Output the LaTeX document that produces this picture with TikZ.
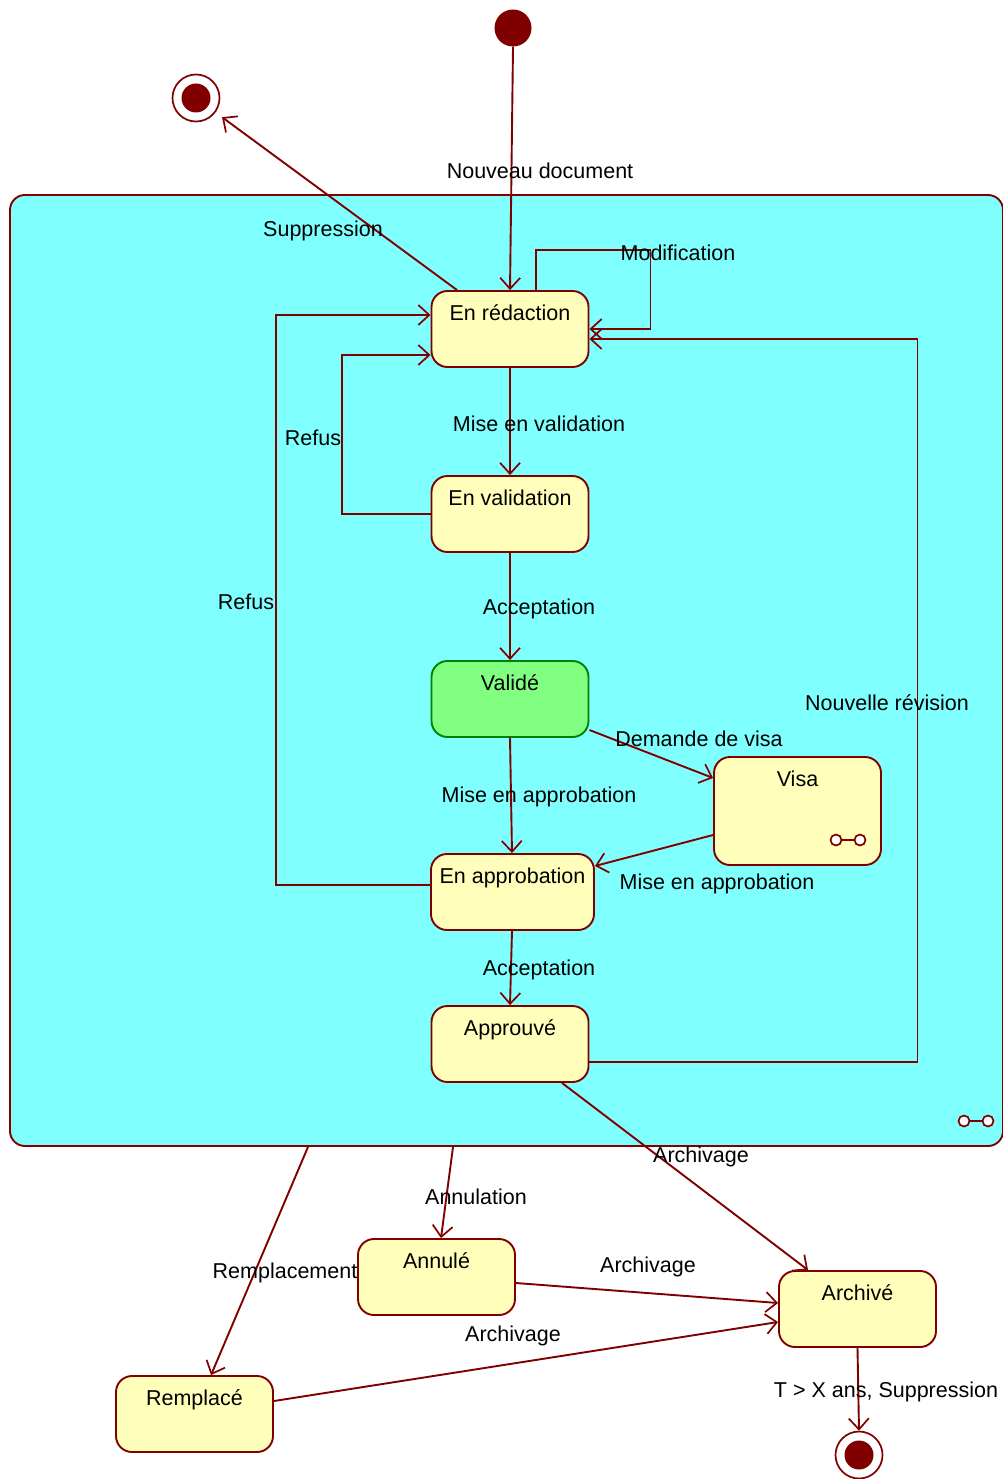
\documentclass[tikz,border=0pt]{standalone}
\usepackage{fontspec}
\setmainfont{Liberation Sans}
\usetikzlibrary{arrows.meta}
\definecolor{dred}{HTML}{800000}
\definecolor{compfill}{HTML}{80FFFF}
\definecolor{stfill}{HTML}{FFFFBB}
\definecolor{okfill}{HTML}{80FF80}
\definecolor{okdraw}{HTML}{008000}

\begin{document}
\begin{tikzpicture}[x=1pt, y=-1pt, font=\fontsize{21.5}{25}\selectfont,
    state/.style={rectangle, rounded corners=16pt, draw=dred, line width=1.9pt, fill=stfill,
        minimum width=157pt, minimum height=76pt, inner sep=0pt,
        label={[anchor=base, yshift=-30pt, inner sep=0pt]north:#1}},
    trans/.style={draw=dred, line width=1.9pt, -{Straight Barb[length=11pt, width=20pt, line width=1.7pt]}},
    lbl/.style={inner sep=0pt, anchor=center}]
    \useasboundingbox (0,0) rectangle (1002,1479);
    % composite state
    \node[rectangle, rounded corners=15pt, draw=dred, line width=1.9pt, fill=compfill,
        minimum width=993pt, minimum height=951pt, inner sep=0pt] (comp) at (506.5,670.5) {};
    % pseudo states
    \node[circle, fill=dred, minimum size=37pt, inner sep=0pt] (init) at (513,28) {};
    \node[circle, draw=dred, line width=1.7pt, fill=white, minimum size=47pt, inner sep=0pt] (fin1) at (196,98) {};
    \node[circle, fill=dred, minimum size=29pt, inner sep=0pt] at (fin1) {};
    \node[circle, draw=dred, line width=1.7pt, fill=white, minimum size=47pt, inner sep=0pt] (fin2) at (859,1455) {};
    \node[circle, fill=dred, minimum size=29pt, inner sep=0pt] at (fin2) {};
    % states
    \node[state=En rédaction] (red) at (510,329) {};
    \node[state=En validation] (val) at (510,514) {};
    \node[state=Validé, fill=okfill, draw=okdraw] (ok) at (510,699) {};
    \node[state=Visa, minimum width=167pt, minimum height=108pt] (visa) at (797.5,811) {};
    \node[state=En approbation, minimum width=163pt] (appr) at (512.5,892) {};
    \node[state=Approuvé] (apv) at (510,1044) {};
    \node[state=Annulé] (ann) at (436.5,1277) {};
    \node[state=Archivé] (arch) at (857.5,1309) {};
    \node[state=Remplacé] (rem) at (194.5,1414) {};
    % submachine icons
    \foreach \cx/\cy in {964/1121, 836/840} {
        \draw[dred, line width=1.7pt] (\cx,\cy) -- (\cx+24,\cy);
    }
    \foreach \cx/\cy in {964/1121, 988/1121, 836/840, 860/840} {
        \draw[dred, line width=1.7pt, fill=white] (\cx,\cy) circle (5.5);
    }
    % transitions
    \draw[trans] (init.south) -- (red.north);
    \draw[trans, shorten >=8pt] ([xshift=-53pt]red.north) -- (fin1);
    \draw[trans] ([xshift=26pt]red.north) -- ++(0,-40) -| ([xshift=61pt]red.east) -- (red.east);
    \draw[trans] (red.south) -- (val.north);
    \draw[trans] (val.west) -- ++(-89,0) |- ([yshift=-26pt]red.west);
    \draw[trans] (val.south) -- (ok.north);
    \draw[trans] ([yshift=7pt]appr.west) -- ++(-154,0) |- ([yshift=14pt]red.west);
    \draw[trans] (ok.south) -- ([xshift=-0.5pt]appr.north);
    \draw[trans] ([yshift=-31pt]ok.east) -- ([yshift=33pt]visa.west);
    \draw[trans] ([yshift=-24pt]visa.west) -- ([yshift=26pt]appr.east);
    \draw[trans] ([xshift=-0.5pt]appr.south) -- (apv.north);
    \draw[trans] ([yshift=-18pt]apv.east) -- ++(328,0) |- ([yshift=-10pt]red.east);
    \draw[trans] ([xshift=52pt]apv.south) -- ([xshift=-49.5pt]arch.north);
    \draw[trans] ([xshift=-53.5pt]comp.south) -- ([xshift=4.5pt]ann.north);
    \draw[trans] ([xshift=-198.5pt]comp.south) -- ([xshift=16.5pt]rem.north);
    \draw[trans] ([yshift=-6pt]ann.east) -- ([yshift=6pt]arch.west);
    \draw[trans] ([yshift=13pt]rem.east) -- ([yshift=-13pt]arch.west);
    \draw[trans] (arch.south) -- (fin2.north);
    % transition labels
    \foreach \lx/\ly/\txt [count=\n] in {540/171/Nouveau document, 323/231/Suppression,
        678/253/Modification, 539/424/Mise en validation, 313/438/Refus,
        539/609/Acceptation, 246/602/Refus, 887/703/Nouvelle révision,
        699/739/Demande de visa, 539/797/Mise en approbation,
        717/884/Mise en approbation, 539/970/Acceptation, 701/1157/Archivage,
        476/1197/Annulation, 285/1273/Remplacement, 648/1267/Archivage,
        513/1336/Archivage} {
        \node[lbl] (lab\n) at (\lx,\ly) {\txt};
    }
    \node[lbl] (labfin) at (886,1392) {T > X ans, Suppression};
\end{tikzpicture}
\end{document}
